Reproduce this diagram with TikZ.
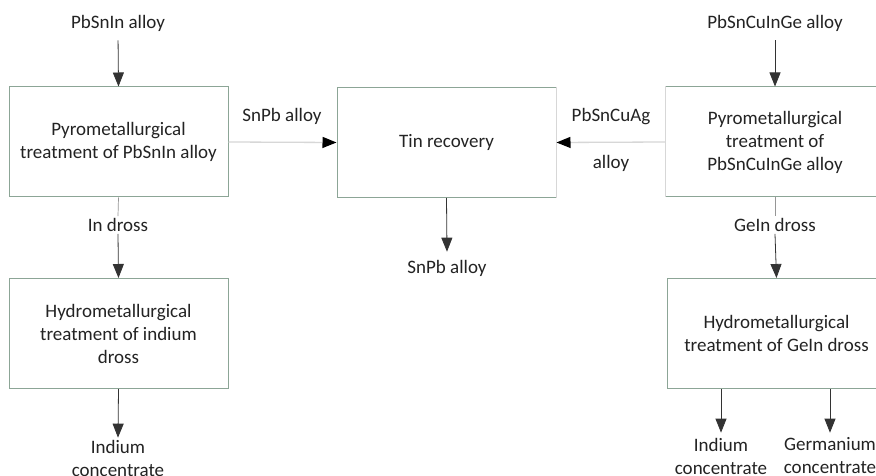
\documentclass[tikz,border=0pt]{standalone}
\usepackage{fontspec}
\setmainfont{Carlito}
\usetikzlibrary{arrows.meta}
\definecolor{boxc}{RGB}{140,165,150}
\definecolor{lite}{RGB}{215,215,215}
\definecolor{midg}{RGB}{150,150,150}
\definecolor{txt}{RGB}{35,35,35}
\tikzset{
  procbox/.style={draw=boxc, line width=1pt, minimum width=219pt, minimum height=110pt, align=center, text=txt, font=\fontsize{19}{23}\selectfont, inner sep=0pt},
  lbl/.style={text=txt, font=\fontsize{19}{23}\selectfont, align=center, inner sep=2pt},
  arr/.style={draw=black!80, line width=0.8pt, -{Triangle[length=14pt,width=11pt]}},
  harr/.style={draw=lite, line width=1.3pt, -{Triangle[length=14pt,width=11pt,color=black]}},
  seg/.style={draw=midg, line width=0.7pt},
  liteedge/.style={draw=lite, line width=1pt}
}
\begin{document}
\begin{tikzpicture}[x=1pt,y=-1pt]
\useasboundingbox (0,0) rectangle (876,476);
\clip (0,0) rectangle (876,476);
\fill[white] (0,0) rectangle (876,476);
% boxes
\node[procbox] (b1) at (118.5,142) {Pyrometallurgical\\treatment of PbSnIn alloy};
\node[procbox] (tin) at (446.5,142.5) {Tin recovery};
\node[procbox] (b3) at (775,142) {Pyrometallurgical\\treatment of\\PbSnCuInGe alloy};
\node[procbox] (h1) at (118.5,333.5) {Hydrometallurgical\\treatment of indium\\dross};
\node[procbox] (h2) at (776.5,333.5) {Hydrometallurgical\\treatment of GeIn dross};
\draw[liteedge] (tin.north east) -- (tin.south east);
\draw[liteedge] (b3.north west) -- (b3.south west);
% labels
\node[lbl] (in1) at (118,23) {PbSnIn alloy};
\node[lbl] (in2) at (775,23) {PbSnCuInGe alloy};
\node[lbl] (d1) at (118,225) {In dross};
\node[lbl] (d2) at (775,225) {GeIn dross};
\node[lbl] (snpb1) at (282,116) {SnPb alloy};
\node[lbl] (ag1) at (611,117) {PbSnCuAg};
\node[lbl] (ag2) at (611,163) {alloy};
\node[lbl] (snpb2) at (447,268) {SnPb alloy};
\node[lbl] (o1) at (118,458) {Indium\\concentrate};
\node[lbl] (o2) at (721,456) {Indium\\concentrate};
\node[lbl] (o3) at (830,456) {Germanium\\concentrate};
% connectors
\draw[arr, shorten <=7pt] (in1.south) -- (b1.north);
\draw[arr, shorten <=7pt] (in2.south) -- (b3.north);
\draw[harr] (b1.east) -- (tin.west);
\draw[harr] (b3.west) -- (tin.east);
\draw[seg] (b1.south) -- (d1.north);
\draw[arr] (d1.south) -- (h1.north);
\draw[seg] (b3.south) -- (d2.north);
\draw[arr] (d2.south) -- (h2.north);
\draw[arr] (tin.south) -- ([yshift=6pt]snpb2.north);
\draw[arr] (h1.south) -- (o1.north);
\draw[arr] (h2.south -| o2.north) -- ([yshift=3pt]o2.north);
\draw[arr] (h2.south -| o3.north) -- ([yshift=3pt]o3.north);
\end{tikzpicture}
\end{document}
